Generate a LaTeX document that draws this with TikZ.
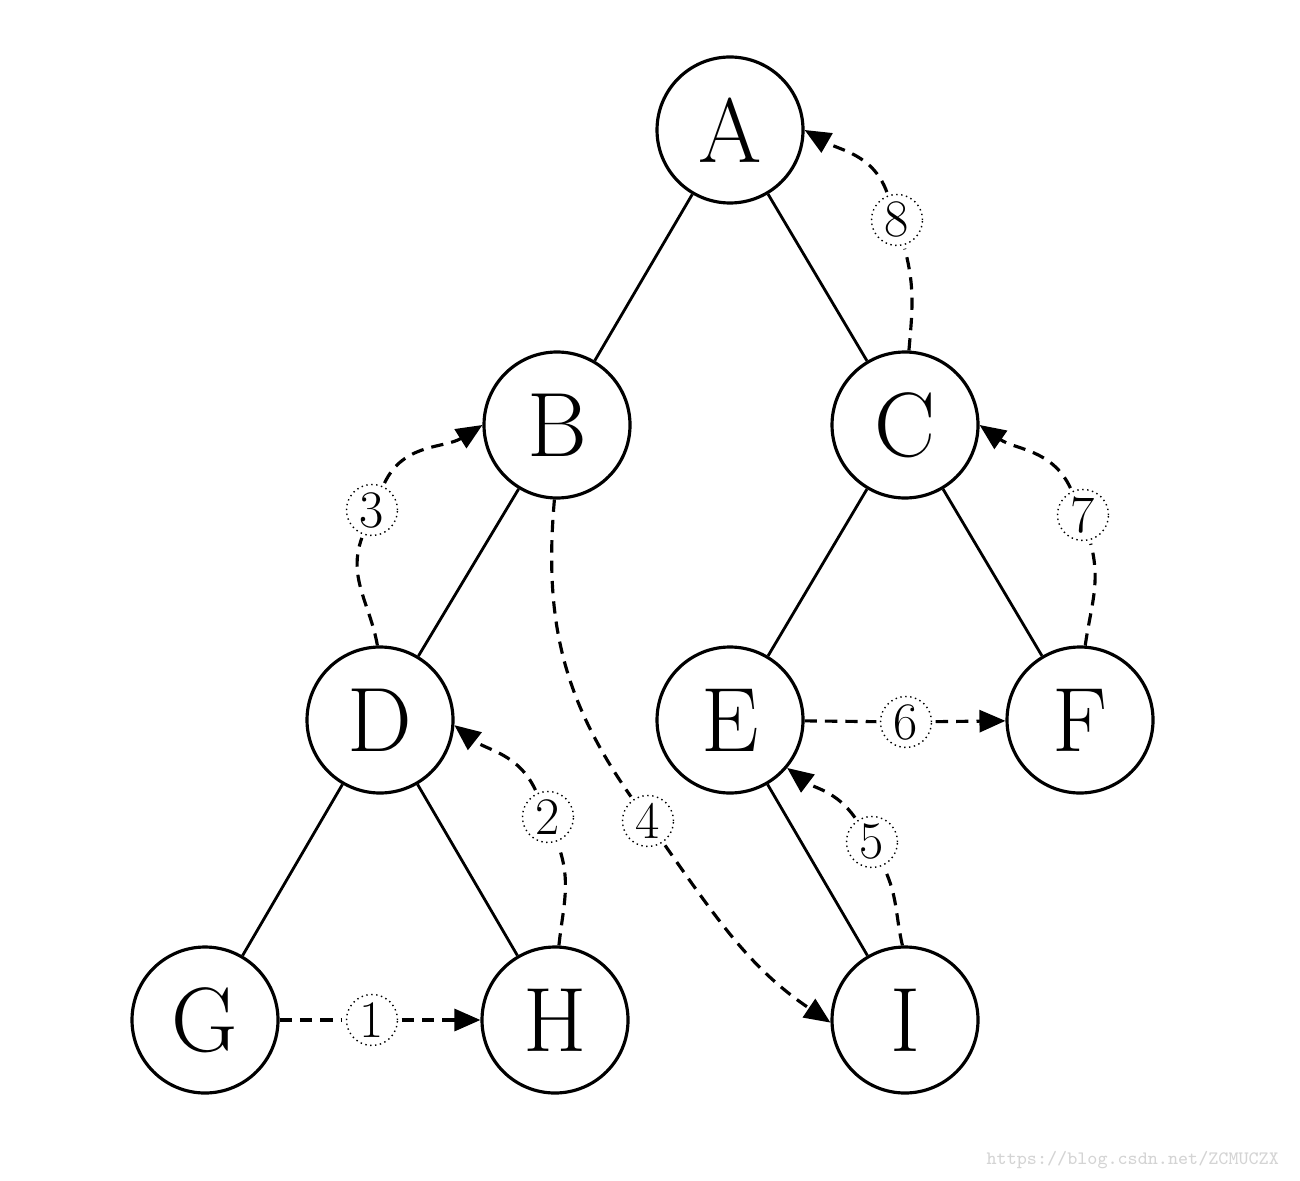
\documentclass[tikz,border=0pt]{standalone}
\usepackage{tikz}
\usetikzlibrary{arrows.meta,positioning,calc}
\definecolor{markgray}{RGB}{212,212,212}
\tikzset{
  treenode/.style={circle,draw,line width=0.9pt,minimum size=14.6mm,inner sep=0pt,font=\fontsize{26}{30}\selectfont},
  order/.style={circle,draw,densely dotted,line width=0.4pt,fill=white,minimum size=5.1mm,inner sep=0pt,outer sep=1.2pt,font=\fontsize{15}{17}\selectfont},
  visit/.style={-{Triangle[length=2.6mm,width=2.2mm]},dash pattern=on 3.5pt off 2.3pt,line width=0.9pt}
}

\begin{document}
\begin{tikzpicture}[line width=0.8pt]
  \useasboundingbox (0,0) rectangle (13,11.8);
  % tree
  \node[treenode] (A) at (7.30,10.50) {A};
  \node[treenode] (B) at (5.57,7.55) {B};
  \node[treenode] (C) at (9.05,7.55) {C};
  \node[treenode] (D) at (3.80,4.60) {D};
  \node[treenode] (E) at (7.30,4.60) {E};
  \node[treenode] (F) at (10.80,4.60) {F};
  \node[treenode] (G) at (2.05,1.60) {G};
  \node[treenode] (H) at (5.55,1.60) {H};
  \node[treenode] (I) at (9.05,1.60) {I};
  \draw (A) -- (B);
  \draw (A) -- (C);
  \draw (B) -- (D);
  \draw (C) -- (E);
  \draw (C) -- (F);
  \draw (D) -- (G);
  \draw (D) -- (H);
  \draw (E) -- (I);
  % visiting order
  \node[order] (o1) at (3.72,1.60) {1};
  \node[order] (o2) at (5.48,3.63) {2};
  \node[order] (o3) at (3.72,6.70) {3};
  \node[order] (o4) at (6.48,3.59) {4};
  \node[order] (o5) at (8.72,3.38) {5};
  \node[order] (o6) at (9.06,4.58) {6};
  \node[order] (o7) at (10.83,6.65) {7};
  \node[order] (o8) at (8.97,9.60) {8};
  \draw[visit] (G) -- (o1) -- (H);
  \draw[visit] (H.87) to[out=84,in=-70] (o2) to[out=115,in=-38] (D.-4);
  \draw[visit] (D.92) to[out=100,in=-110] (o3) to[out=65,in=-148] (B.west);
  \draw[visit] (B.-92) to[out=-95,in=125] (o4) to[out=-55,in=146] (I.182);
  \draw[visit] (I.92) to[out=103,in=-65] (o5) to[out=125,in=-37] (E.-40);
  \draw[visit] (E) -- (o6) -- (F);
  \draw[visit] (F.86) to[out=82,in=-75] (o7) to[out=115,in=-35] (C.east);
  \draw[visit] (C.87) to[out=85,in=-75] (o8) to[out=110,in=-30] (A.east);
  % watermark
  \node[font=\fontsize{5.4}{6}\ttfamily,text=markgray,anchor=east] (mark) at (12.92,0.2) {https://blog.csdn.net/ZCMUCZX};
\end{tikzpicture}
\end{document}
